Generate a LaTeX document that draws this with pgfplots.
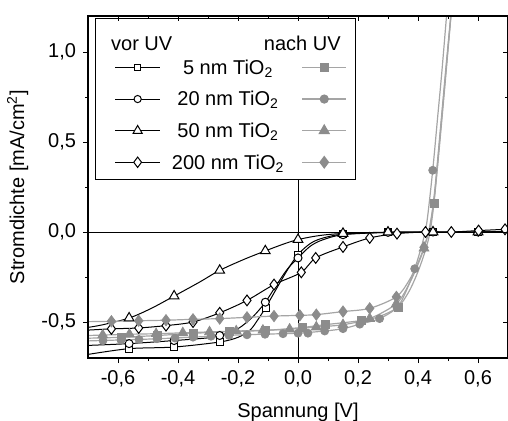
\documentclass[border=0pt]{standalone}
\usepackage{fontspec}
\setmainfont{Liberation Sans}
\usepackage{pgfplots}
\pgfplotsset{compat=1.18}
\definecolor{gm}{RGB}{140,140,140}
\definecolor{gl}{RGB}{165,165,165}
\newcommand{\fs}{\fontsize{10bp}{12bp}\selectfont}
\newcommand{\lt}[1]{\makebox[60bp][c]{#1}}
\pgfplotsset{
  limg/.style={legend image code/.code={\path (-9.5bp,0bp) (26.25bp,0bp); \draw[mark repeat=2,mark phase=2] plot coordinates {(0bp,0bp) (11.25bp,0bp) (22.5bp,0bp)};}},
  rimg/.style={legend image code/.code={\path (-6.75bp,0bp) (25.5bp,0bp); \draw[mark repeat=2,mark phase=2] plot coordinates {(0bp,0bp) (11bp,0bp) (22bp,0bp)};}},
}
\begin{document}
\fs
\begin{tikzpicture}
\begin{axis}[name=ax, scale only axis, width=210bp, height=171bp,
  xmin=-0.7, xmax=0.7, ymin=-0.7, ymax=1.2,
  xtick={-0.6,-0.4,-0.2,0,0.2,0.4,0.6},
  ytick={-0.5,0,0.5,1},
  minor xtick={-0.5,-0.3,-0.1,0.1,0.3,0.5},
  minor ytick={-0.25,0.25,0.75},
  tick align=outside, xtick pos=left, ytick pos=left,
  major tick length=2.5bp, minor tick length=1.5bp,
  tick style={black, line width=0.5bp},
  axis line style={black, line width=0.6bp},
  /pgf/number format/assume math mode=true,
  /pgf/number format/use comma,
  /pgf/number format/fixed,
  /pgf/number format/fixed zerofill,
  /pgf/number format/precision=1,
  tick label style={font=\fs},
  xlabel={Spannung [V]},
  ylabel={Stromdichte [mA/cm\textsuperscript{2}]},
  xlabel style={font=\fs, at={(axis description cs:0.5,-0.1725)}, anchor=base},
  ylabel style={font=\fs, at={(axis description cs:-0.152,0.5)}, anchor=base},
  legend columns=2,
  legend cell align=center,
  legend style={at={(axis description cs:0.017,0.994)}, anchor=north west,
    draw=black, line width=0.5bp, fill=white, font=\fs,
    inner xsep=0pt, inner ysep=0.75bp, row sep=0pt, column sep=0pt,
    nodes={inner sep=0pt, text height=11.3bp, text depth=4.5bp}},
]
% zero lines
\addplot[black, line width=0.5bp, forget plot] coordinates {(0,-0.7) (0,1.2)};
\addplot[black, line width=0.5bp, forget plot] coordinates {(-0.7,0) (0.7,0)};

% ---------- vor UV (black, open markers) ----------
% 5 nm
\addplot[black, line width=0.5bp, smooth, forget plot] table {
x y
-0.70 -0.680
-0.563 -0.648
-0.413 -0.639
-0.261 -0.611
-0.20 -0.585
-0.16 -0.545
-0.135 -0.49
-0.108 -0.42
-0.07 -0.31
-0.035 -0.21
0.0 -0.125
0.04 -0.065
0.08 -0.035
0.15 -0.012
0.30 -0.002
0.45 0.0
0.60 0.0
0.70 0.004
};
\addplot[black, only marks, mark=square*, mark size=1.75bp, mark options={fill=white, line width=0.5bp}, forget plot] table {
x y
-0.563 -0.648
-0.413 -0.639
-0.261 -0.611
-0.108 -0.42
0.0 -0.125
0.15 -0.012
0.30 -0.002
0.45 0.0
0.60 0.0
};
% 20 nm
\addplot[black, line width=0.5bp, smooth, forget plot] table {
x y
-0.70 -0.630
-0.563 -0.620
-0.413 -0.603
-0.30 -0.588
-0.261 -0.575
-0.20 -0.537
-0.15 -0.47
-0.109 -0.39
-0.07 -0.29
-0.035 -0.205
0.0 -0.144
0.04 -0.08
0.08 -0.045
0.15 -0.015
0.30 -0.002
0.45 0.0
0.60 0.0
0.70 0.004
};
\addplot[black, only marks, mark=*, mark size=2bp, mark options={fill=white, line width=0.5bp}, forget plot] table {
x y
-0.563 -0.620
-0.413 -0.603
-0.261 -0.575
-0.109 -0.39
0.0 -0.144
0.15 -0.015
0.30 -0.002
0.45 0.0
0.60 0.0
};
% 50 nm
\addplot[black, line width=0.5bp, smooth, forget plot] table {
x y
-0.70 -0.530
-0.65 -0.515
-0.563 -0.478
-0.49 -0.425
-0.413 -0.356
-0.33 -0.28
-0.261 -0.213
-0.18 -0.152
-0.109 -0.105
-0.05 -0.068
0.0 -0.042
0.07 -0.02
0.15 -0.008
0.30 -0.001
0.45 0.0
0.60 0.0
0.70 0.003
};
\addplot[black, only marks, mark=triangle*, mark size=2.8bp, mark options={fill=white, line width=0.5bp}, forget plot] table {
x y
-0.563 -0.478
-0.413 -0.356
-0.261 -0.213
-0.109 -0.105
0.0 -0.042
0.15 -0.008
0.30 -0.001
0.45 0.0
0.60 0.0
};
% 200 nm
\addplot[black, line width=0.5bp, smooth, forget plot] table {
x y
-0.70 -0.545
-0.622 -0.538
-0.531 -0.533
-0.44 -0.52
-0.35 -0.50
-0.261 -0.449
-0.17 -0.38
-0.08 -0.292
0.011 -0.224
0.059 -0.144
0.15 -0.083
0.239 -0.033
0.33 -0.009
0.425 0.0
0.511 0.0
0.602 0.008
0.69 0.015
0.70 0.016
};
\addplot[black, only marks, mark=diamond*, mark size=2.7bp, mark options={fill=white, line width=0.5bp}, forget plot] table {
x y
-0.622 -0.538
-0.531 -0.533
-0.44 -0.52
-0.35 -0.50
-0.261 -0.449
-0.17 -0.38
-0.08 -0.292
0.011 -0.224
0.059 -0.144
0.15 -0.083
0.239 -0.033
0.33 -0.009
0.425 0.0
0.511 0.0
0.602 0.008
0.69 0.015
};

% ---------- nach UV (gray, filled markers) ----------
% 5 nm
\addplot[gl, line width=0.6bp, smooth, forget plot] table {
x y
-0.70 -0.590
-0.59 -0.585
-0.47 -0.575
-0.35 -0.563
-0.23 -0.553
-0.11 -0.547
0.015 -0.530
0.09 -0.515
0.21 -0.492
0.27 -0.47
0.333 -0.417
0.37 -0.33
0.40 -0.22
0.425 -0.10
0.44 0.0
0.453 0.159
0.47 0.45
0.49 0.82
0.515 1.3
};
\addplot[gm, only marks, mark=square*, mark size=2bp, mark options={fill=gm, draw=gm}, forget plot] table {
x y
-0.59 -0.585
-0.47 -0.575
-0.35 -0.563
-0.23 -0.553
-0.11 -0.547
0.015 -0.530
0.09 -0.515
0.21 -0.492
0.333 -0.417
0.453 0.159
};
% 20 nm
\addplot[gl, line width=0.6bp, smooth, forget plot] table {
x y
-0.70 -0.605
-0.60 -0.600
-0.50 -0.595
-0.40 -0.588
-0.30 -0.580
-0.20 -0.572
-0.10 -0.567
0.0 -0.562
0.089 -0.550
0.15 -0.537
0.206 -0.512
0.272 -0.481
0.33 -0.42
0.36 -0.33
0.389 -0.204
0.415 -0.06
0.43 0.06
0.449 0.343
0.465 0.63
0.48 0.9
0.50 1.3
};
\addplot[gm, only marks, mark=*, mark size=2bp, mark options={fill=gm, draw=gm}, forget plot] table {
x y
-0.65 -0.603
-0.59 -0.600
-0.53 -0.597
-0.47 -0.593
-0.41 -0.589
-0.35 -0.584
-0.29 -0.579
-0.23 -0.575
-0.17 -0.571
-0.11 -0.568
-0.05 -0.565
0.0 -0.562
0.033 -0.562
0.089 -0.550
0.15 -0.537
0.206 -0.512
0.272 -0.481
0.33 -0.42
0.389 -0.204
0.449 0.343
};
% 50 nm
\addplot[gl, line width=0.6bp, smooth, forget plot] table {
x y
-0.70 -0.575
-0.562 -0.568
-0.473 -0.565
-0.384 -0.560
-0.295 -0.555
-0.206 -0.550
-0.117 -0.546
-0.028 -0.540
0.061 -0.528
0.15 -0.515
0.239 -0.481
0.328 -0.398
0.37 -0.29
0.40 -0.18
0.42 -0.09
0.44 0.04
0.455 0.22
0.475 0.58
0.495 0.95
0.515 1.3
};
\addplot[gm, only marks, mark=triangle*, mark size=2.8bp, mark options={fill=gm, draw=gm}, forget plot] table {
x y
-0.651 -0.572
-0.562 -0.568
-0.473 -0.565
-0.384 -0.560
-0.295 -0.555
-0.206 -0.550
-0.117 -0.546
-0.028 -0.540
0.061 -0.528
0.15 -0.515
0.239 -0.481
0.328 -0.398
0.42 -0.09
};
% 200 nm
\addplot[gl, line width=0.6bp, smooth, forget plot] table {
x y
-0.70 -0.498
-0.622 -0.496
-0.531 -0.493
-0.44 -0.490
-0.35 -0.485
-0.261 -0.481
-0.17 -0.474
-0.08 -0.467
0.006 -0.463
0.061 -0.459
0.15 -0.442
0.239 -0.424
0.328 -0.360
0.37 -0.27
0.40 -0.17
0.42 -0.085
0.44 0.03
0.455 0.2
0.475 0.56
0.495 0.93
0.515 1.3
};
\addplot[gm, only marks, mark=diamond*, mark size=2.8bp, mark options={fill=gm, draw=gm}, forget plot] table {
x y
-0.622 -0.496
-0.531 -0.493
-0.44 -0.490
-0.35 -0.485
-0.261 -0.481
-0.17 -0.474
-0.08 -0.467
0.006 -0.463
0.061 -0.459
0.15 -0.442
0.239 -0.424
0.328 -0.360
0.42 -0.085
};

% ---------- legend ----------
\addlegendimage{empty legend}
\addlegendentry{\makebox[60bp][l]{\hspace*{-28.5bp}\raisebox{-3.9bp}{vor UV}}}
\addlegendimage{empty legend}
\addlegendentry{\makebox[0pt][r]{\raisebox{-3.9bp}{nach UV}\hspace*{7.1bp}}}
\addlegendimage{limg, black, line width=0.5bp, mark=square*, mark size=1.6bp, mark options={fill=white}}
\addlegendentry{\lt{5 nm TiO\textsubscript{2}}}
\addlegendimage{rimg, gl, line width=0.6bp, mark=square*, mark size=2bp, mark options={fill=gm, draw=gm}}
\addlegendentry{\mbox{}}
\addlegendimage{limg, black, line width=0.5bp, mark=*, mark size=1.8bp, mark options={fill=white}}
\addlegendentry{\lt{20 nm TiO\textsubscript{2}}}
\addlegendimage{rimg, gl, line width=0.6bp, mark=*, mark size=2bp, mark options={fill=gm, draw=gm}}
\addlegendentry{\mbox{}}
\addlegendimage{limg, black, line width=0.5bp, mark=triangle*, mark size=2.6bp, mark options={fill=white}}
\addlegendentry{\lt{50 nm TiO\textsubscript{2}}}
\addlegendimage{rimg, gl, line width=0.6bp, mark=triangle*, mark size=2.8bp, mark options={fill=gm, draw=gm}}
\addlegendentry{\mbox{}}
\addlegendimage{limg, black, line width=0.5bp, mark=diamond*, mark size=2.6bp, mark options={fill=white}}
\addlegendentry{\lt{200 nm TiO\textsubscript{2}}}
\addlegendimage{rimg, gl, line width=0.6bp, mark=diamond*, mark size=2.8bp, mark options={fill=gm, draw=gm}}
\addlegendentry{\mbox{}}
\end{axis}
% inward ticks on top and right
\begin{axis}[scale only axis, width=210bp, height=171bp,
  xmin=-0.7, xmax=0.7, ymin=-0.7, ymax=1.2,
  xtick={-0.6,-0.4,-0.2,0,0.2,0.4,0.6},
  ytick={-0.5,0,0.5,1},
  minor xtick={-0.5,-0.3,-0.1,0.1,0.3,0.5},
  minor ytick={-0.25,0.25,0.75},
  tick align=inside, xtick pos=right, ytick pos=right,
  major tick length=2.5bp, minor tick length=1.5bp,
  tick style={black, line width=0.5bp},
  axis line style={black, line width=0.6bp},
  xticklabels={}, yticklabels={},
]
\end{axis}
\pgfresetboundingbox
\path[use as bounding box] ([xshift=-44bp,yshift=-31bp]ax.south west) rectangle ([yshift=8bp]ax.north east);
\end{tikzpicture}
\end{document}
